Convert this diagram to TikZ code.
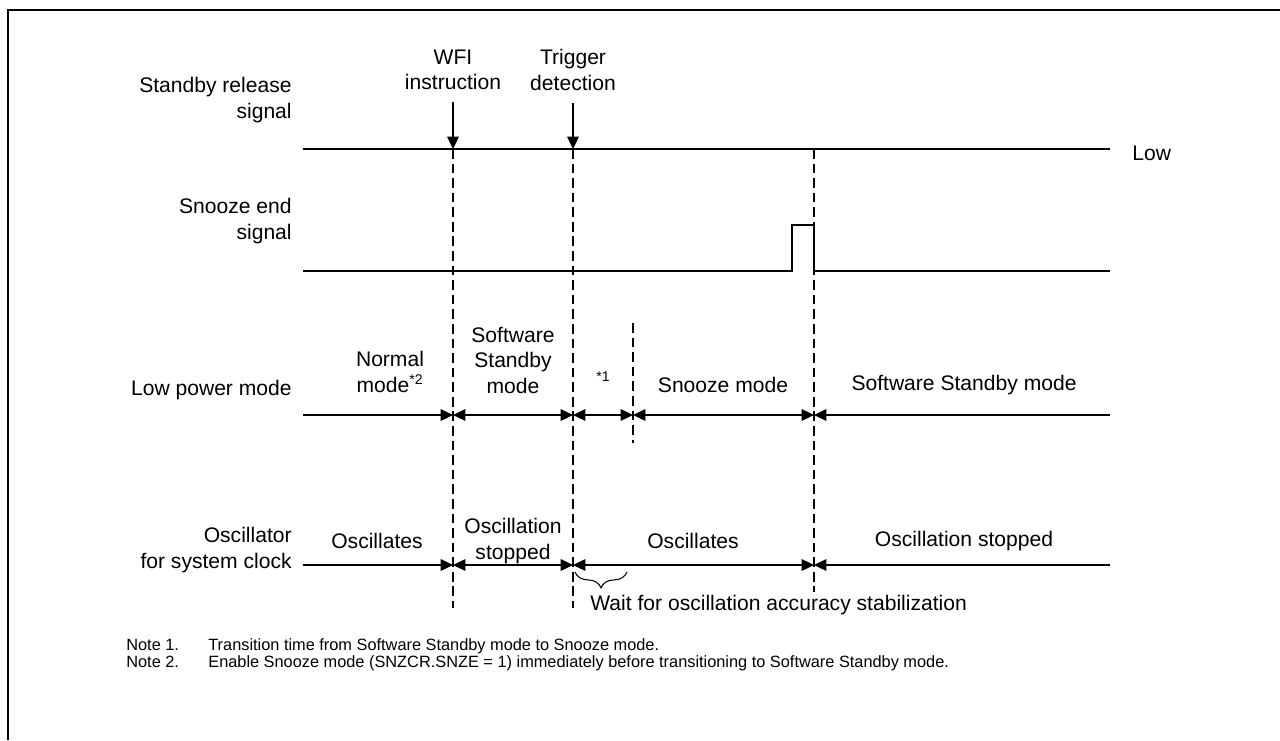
\documentclass[tikz,border=0pt]{standalone}
\usepackage{fontspec}
\setmainfont{Liberation Sans}
\usetikzlibrary{arrows.meta, decorations.pathreplacing, calc}

\begin{document}
\begin{tikzpicture}[x=0.02cm, y=-0.02cm,
    sig/.style={line width=1.1pt},
    marker/.style={line width=0.9pt, dash pattern=on 5.5pt off 2.8pt},
    span/.style={line width=1.1pt, {Triangle[length=7pt,width=6.5pt]}-{Triangle[length=7pt,width=6.5pt]}},
    spanR/.style={line width=1.1pt, -{Triangle[length=7pt,width=6.5pt]}},
    spanL/.style={line width=1.1pt, {Triangle[length=7pt,width=6.5pt]}-},
    lbl/.style={font=\fontsize{12}{14.5}\selectfont, align=center, inner sep=0pt},
    side/.style={lbl, align=right, anchor=east},
    note/.style={font=\fontsize{9.3}{10}\selectfont, anchor=base west, inner sep=0pt}]

    \useasboundingbox (0,0) rectangle (1280,740);

    % --- Frame ---
    \draw[line width=1.7pt] (8,740) -- (8,10) -- (1280,10);

    % --- Time marks on each row ---
    \foreach \n/\x in {a/303, w/453, t/573, s/633, p/792, e/814, z/1110} {
        \coordinate (R\n) at (\x,149);
        \coordinate (Z\n) at (\x,271);
        \coordinate (L\n) at (\x,415);
        \coordinate (O\n) at (\x,565);
    }
    \coordinate (Bw) at (453,608);
    \coordinate (Bt) at (573,608);
    \coordinate (Be) at (814,592);
    \coordinate (Ts) at (633,323);
    \coordinate (Us) at (633,443);

    % --- Row labels ---
    \node[side] (lblR) at (292,100) {Standby release\\signal};
    \node[side] (lblZ) at (292,221) {Snooze end\\signal};
    \node[side] (lblL) at (292,390) {Low power mode};
    \node[side] (lblO) at (292,550) {Oscillator\\for system clock};

    % --- Events ---
    \node[lbl] (wfi) at (453,70) {WFI\\instruction};
    \node[lbl] (trg) at (573,70) {Trigger\\detection};
    \draw[spanR] (wfi.south) ++(0,12) -- (Rw);
    \draw[spanR] (trg.south) ++(0,12) -- (Rt);

    % --- Signals ---
    \draw[sig] (Ra) -- (Rz);
    \node[lbl, anchor=west] (low) at (1132,153) {Low};
    \draw[sig] (Za) -- (Zp) -- ++(0,-46) -| (Ze) -- (Zz);

    % --- Dashed markers ---
    \draw[marker] (Rw) -- (Bw);
    \draw[marker] (Rt) -- (Bt);
    \draw[marker] (Re) -- (Be);
    \draw[marker] (Ts) -- (Us);

    % --- Low power mode ---
    \draw[spanR] (La) -- (Lw);
    \draw[span] (Lw) -- (Lt);
    \draw[span] (Lt) -- (Ls);
    \draw[span] (Ls) -- (Le);
    \draw[spanL] (Le) -- (Lz);
    \node[lbl] (mNorm) at (390,372) {Normal\\mode\textsuperscript{*2}};
    \node[lbl] (mSw1) at (513,360) {Software\\Standby\\mode};
    \node[lbl, font=\fontsize{8}{9}\selectfont] (mTr) at (603,377) {*1};
    \node[lbl] (mSnz) at (723,385) {Snooze mode};
    \node[lbl] (mSw2) at (964,385) {Software Standby mode};

    % --- Oscillator ---
    \draw[spanR] (Oa) -- (Ow);
    \draw[span] (Ow) -- (Ot);
    \draw[span] (Ot) -- (Oe);
    \draw[spanL] (Oe) -- (Oz);
    \node[lbl] (oRun1) at (377,541) {Oscillates};
    \node[lbl] (oStp1) at (513,541) {Oscillation\\stopped};
    \node[lbl] (oRun2) at (693,541) {Oscillates};
    \node[lbl] (oStp2) at (964,541) {Oscillation stopped};

    % Wait brace
    \draw[line width=0.6pt, decorate, decoration={brace, mirror, amplitude=9pt}] ($(Ot)+(2,7)$) -- ($(Ot)+(54,7)$) coordinate (brEnd);
    \node[lbl, anchor=west] (wait) at (590,605) {Wait for oscillation accuracy stabilization};

    % --- Notes ---
    \node[note] (n1) at (126,650) {Note 1.};
    \node[note] (n1t) at (208,650) {Transition time from Software Standby mode to Snooze mode.};
    \node[note] (n2) at (126,667) {Note 2.};
    \node[note] (n2t) at (208,667) {Enable Snooze mode (SNZCR.SNZE = 1) immediately before transitioning to Software Standby mode.};

\end{tikzpicture}
\end{document}
